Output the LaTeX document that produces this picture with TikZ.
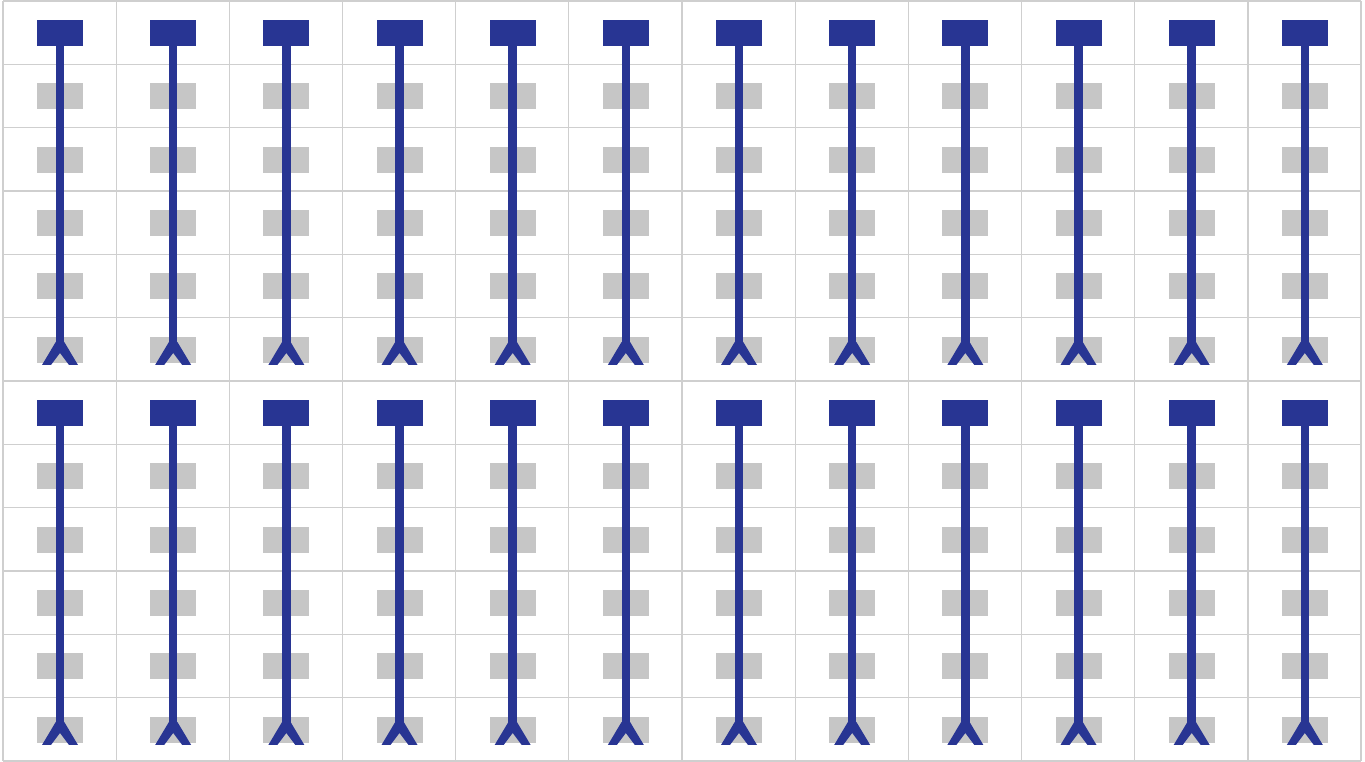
\documentclass[tikz,border=0pt]{standalone}
\definecolor{gridc}{HTML}{CFCFCF}
\definecolor{cellc}{HTML}{C6C6C6}
\definecolor{barc}{HTML}{283593}
\begin{document}
\begin{tikzpicture}[x=1pt,y=-1pt,
  gridline/.style={draw=gridc,line width=1.3pt},
  cellbox/.style={fill=cellc,draw=none,minimum width=46pt,minimum height=26pt,inner sep=0pt,outer sep=0pt},
  headbox/.style={fill=barc,draw=none,minimum width=46pt,minimum height=26pt,inner sep=0pt,outer sep=0pt},
  stem/.style={draw=barc,line width=8.5pt},
  fork/.style={fill=barc,draw=none}]
\useasboundingbox (0,0) rectangle (1365,762);
\fill[white] (0,0) rectangle (1365,762);
% grid
\foreach \k in {0,...,12}{
  \pgfmathsetmacro{\gx}{3+\k*113.1667}
  \pgfmathsetmacro{\gy}{1+\k*63.3333}
  \draw[gridline] (\gx,1) -- (\gx,761);
  \draw[gridline] (3,\gy) -- (1361,\gy);
}
% grey cell boxes
\foreach \i in {0,...,11}{
  \foreach \j in {0,...,11}{
    \pgfmathsetmacro{\cx}{3+\i*113.1667+57}
    \pgfmathsetmacro{\cy}{1+\j*63.3333+32}
    \node[cellbox] (c-\i-\j) at (\cx,\cy) {};
  }
}
% stems
\foreach \i in {0,...,11}{
  \foreach \b in {0,1}{
    \pgfmathsetmacro{\cx}{3+\i*113.1667+57}
    \pgfmathsetmacro{\hy}{1+(6*\b)*63.3333+32}
    \pgfmathsetmacro{\ey}{1+(6*\b+5)*63.3333+25.3}
    \node[headbox] (h-\i-\b) at (\cx,\hy) {};
    \coordinate (e-\i-\b) at (\cx,\ey);
    \draw[stem] (h-\i-\b.south) -- (e-\i-\b);
    \begin{scope}[shift={(e-\i-\b)}]
      \fill[fork] (-4.25,-1) -- (4.25,-1) -- (18,22) -- (9,22) -- (0,10) -- (-9,22) -- (-18,22) -- cycle;
    \end{scope}
  }
}
\end{tikzpicture}
\end{document}
